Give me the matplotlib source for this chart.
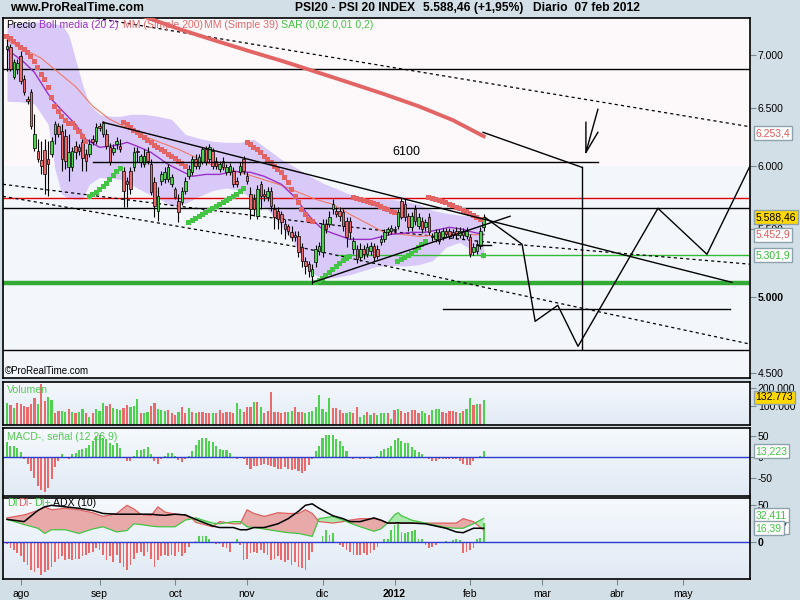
import numpy as np
import matplotlib
matplotlib.use("Agg")
import matplotlib.pyplot as plt
from matplotlib.colors import LinearSegmentedColormap
from matplotlib.ticker import NullLocator, NullFormatter

plt.rcParams['font.family'] = ['Liberation Sans', 'DejaVu Sans']

# 🔹 Velas diarias PSI20 (26 jul 2011 - 07 feb 2012), indice de barra 0..139
apertura = [7056, 7076, 6787, 6863, 6988, 6768, 6583, 6647, 6150, 6124,
            6048, 6133, 6056, 6098, 6270, 6340, 6296, 6253, 5989, 5989,
            6167, 6158, 6201, 6098, 6098, 6227, 6210, 6340, 6270, 6270,
            6158, 6115, 6184, 6167, 5956, 5874, 5956, 5989, 6124, 6031,
            6014, 6115, 6014, 5866, 5634, 5874, 5890, 5890, 5850, 5809,
            5713, 5705, 5793, 5915, 5948, 6056, 5998, 6031, 6141, 6056,
            6124, 6039, 5973, 6039, 5948, 5948, 5956, 5874, 5948, 6056,
            5915, 5769, 5729, 5596, 5850, 5769, 5745, 5793, 5650, 5634,
            5611, 5534, 5518, 5472, 5450, 5442, 5360, 5256, 5234, 5148,
            5249, 5330, 5323, 5534, 5534, 5650, 5634, 5634, 5627, 5557,
            5557, 5345, 5345, 5286, 5345, 5308, 5330, 5367, 5345, 5397,
            5419, 5472, 5480, 5495, 5518, 5713, 5690, 5596, 5511, 5650,
            5518, 5557, 5511, 5588, 5434, 5419, 5472, 5434, 5480, 5480,
            5472, 5480, 5450, 5480, 5442, 5434, 5323, 5330, 5367, 5511]
cierre = [7087, 6863, 6930, 6920, 6749, 6647, 6565, 6340, 6270, 6056,
          5998, 5931, 6014, 6210, 6358, 6270, 6056, 6039, 6115, 6124,
          6115, 6124, 6065, 6039, 6184, 6201, 6331, 6323, 6367, 6167,
          6031, 6150, 6210, 6141, 5793, 5850, 5809, 6115, 6115, 6081,
          6081, 6039, 5785, 5674, 5753, 5931, 5948, 5989, 5906, 5745,
          5627, 5793, 5874, 5973, 6056, 5998, 6073, 6141, 6031, 6158,
          5998, 5998, 6014, 5989, 5989, 5998, 5850, 5850, 5998, 5956,
          5874, 5650, 5650, 5809, 5753, 5753, 5793, 5674, 5588, 5572,
          5549, 5495, 5480, 5434, 5434, 5323, 5256, 5220, 5184, 5198,
          5345, 5367, 5534, 5495, 5588, 5690, 5611, 5596, 5518, 5434,
          5472, 5404, 5271, 5345, 5308, 5360, 5367, 5286, 5293, 5419,
          5472, 5495, 5503, 5488, 5627, 5588, 5588, 5511, 5596, 5557,
          5588, 5495, 5549, 5472, 5442, 5472, 5404, 5480, 5457, 5442,
          5450, 5450, 5480, 5450, 5480, 5308, 5360, 5382, 5480, 5588.46]
maximo = [7155, 7105, 6959, 6959, 7036, 6806, 6610, 6675, 6447, 6227,
          6210, 6227, 6210, 6244, 6384, 6367, 6358, 6314, 6270, 6158,
          6210, 6184, 6227, 6141, 6227, 6262, 6367, 6367, 6384, 6314,
          6192, 6184, 6244, 6227, 5989, 5906, 5989, 6158, 6158, 6098,
          6141, 6158, 6056, 5906, 5825, 5956, 5989, 6014, 5931, 5825,
          5769, 5825, 5906, 6006, 6081, 6098, 6098, 6158, 6167, 6184,
          6150, 6073, 6039, 6073, 6014, 6023, 5989, 5906, 6031, 6081,
          5948, 5825, 5769, 5842, 5874, 5809, 5825, 5825, 5690, 5666,
          5634, 5572, 5534, 5518, 5480, 5480, 5389, 5286, 5256, 5234,
          5374, 5397, 5572, 5572, 5634, 5729, 5666, 5666, 5650, 5588,
          5588, 5434, 5374, 5389, 5374, 5389, 5397, 5389, 5374, 5450,
          5495, 5511, 5526, 5518, 5650, 5745, 5729, 5619, 5627, 5682,
          5619, 5588, 5572, 5619, 5465, 5495, 5495, 5503, 5503, 5503,
          5495, 5511, 5511, 5503, 5511, 5457, 5389, 5412, 5511, 5611]
minimo = [6844, 6844, 6768, 6815, 6721, 6620, 6537, 6314, 6124, 6031,
          5931, 5769, 5753, 6073, 6184, 6244, 5956, 5973, 5874, 5956,
          6056, 6090, 5956, 5956, 6073, 6175, 6184, 6296, 6244, 6141,
          6006, 6090, 6141, 6115, 5666, 5666, 5769, 5956, 6031, 5989,
          5989, 6014, 5761, 5588, 5557, 5842, 5858, 5866, 5825, 5729,
          5549, 5682, 5769, 5890, 5923, 5973, 5973, 6014, 6006, 6031,
          5973, 5973, 5948, 5964, 5923, 5923, 5825, 5825, 5923, 5931,
          5850, 5572, 5596, 5572, 5650, 5713, 5713, 5634, 5495, 5495,
          5457, 5419, 5450, 5404, 5404, 5286, 5212, 5162, 5141, 5092,
          5212, 5300, 5286, 5465, 5511, 5611, 5588, 5557, 5480, 5360,
          5419, 5308, 5242, 5256, 5271, 5286, 5300, 5256, 5271, 5374,
          5397, 5450, 5457, 5465, 5495, 5572, 5557, 5480, 5480, 5526,
          5495, 5465, 5480, 5450, 5404, 5397, 5382, 5412, 5434, 5419,
          5427, 5419, 5427, 5419, 5419, 5286, 5300, 5308, 5345, 5480]

# SAR (0,02 0,01 0,2)
sar = [7185, 7165, 7135, 7105, 7076, 7056, 7027, 6988, 6940, 6882,
       6815, 6768, 6694, 6601, 6519, 6474, 6429, 6393, 6367, 6367,
       6331, 6296, 6253, 6210, 5753, 5769, 5785, 5809, 5834, 5858,
       5890, 5923, 5956, 5981, 6375, 6358, 6331, 6305, 6288, 6262,
       6244, 6218, 6201, 6175, 6158, 6141, 6124, 6098, 6081, 6065,
       6039, 6023, 5998, 5549, 5565, 5580, 5596, 5611, 5627, 5642,
       5658, 5674, 5690, 5705, 5721, 5737, 5753, 5769, 5793, 5817,
       6201, 6184, 6158, 6141, 6115, 6081, 6056, 6031, 5998, 5973,
       5948, 5906, 5866, 5809, 5753, 5705, 5650, 5611, 5572, 5557,
       5105, 5120, 5134, 5155, 5177, 5198, 5220, 5242, 5264, 5278,
       5293, 5745, 5737, 5729, 5721, 5713, 5705, 5697, 5690, 5674,
       5658, 5650, 5634, 5627, 5256, 5271, 5286, 5300, 5315, 5338,
       5360, 5382, 5404, 5745, 5737, 5729, 5721, 5713, 5705, 5690,
       5682, 5666, 5658, 5642, 5634, 5619, 5604, 5588, 5572, 5301.9]

# Bandas de Bollinger (20 2) y medias moviles
boll_idx = [0, 4, 8, 12, 14, 16, 18, 20, 22, 24, 27, 30, 33, 36, 40, 44, 48, 52, 56, 60,
            64, 68, 72, 76, 80, 84, 88, 92, 96, 100, 104, 108, 112, 116, 120, 124, 128, 132, 136, 139]
boll_sup = [7300, 7320, 7330, 7320, 7310, 7300, 7200, 6959, 6721, 6537, 6447, 6430, 6429, 6447, 6447,
            6429, 6402, 6270, 6235, 6210, 6201, 6201, 6227, 6141, 6056, 5990, 5923, 5860, 5815, 5770,
            5729, 5729, 5729, 5713, 5690, 5642, 5620, 5605, 5596, 5588]
boll_inf = [6565, 6560, 6540, 6358, 5973, 5769, 5740, 5729, 5729, 5850, 5906, 5900, 5890, 5850, 5790,
            5740, 5674, 5697, 5753, 5800, 5820, 5800, 5720, 5650, 5518, 5380, 5184, 5130, 5141, 5160,
            5190, 5220, 5227, 5222, 5232, 5260, 5360, 5397, 5330, 5271]
media_idx = [0, 5, 8, 13, 16, 20, 23, 27, 32, 35, 38, 42, 47, 51, 54, 58, 62, 66, 71, 75,
             80, 84, 87, 89, 92, 95, 100, 106, 112, 118, 122, 125, 129, 133, 136, 139]
media_val = [7056, 6930, 6834, 6583, 6483, 6358, 6227, 6158, 6175, 6201, 6167, 6115, 6014, 5956,
             5915, 5931, 5931, 5956, 5948, 5915, 5850, 5745, 5634, 5572, 5495, 5465, 5419, 5419,
             5457, 5472, 5472, 5488, 5511, 5495, 5472, 5457]
mm39_idx = [0, 10, 20, 25, 30, 40, 50, 60, 70, 80, 90, 95, 100, 110, 120, 130, 139]
mm39_val = [7145, 6969, 6700, 6520, 6402, 6253, 6141, 6006, 5931, 5842, 5729, 5690, 5611, 5472,
            5442, 5457, 5452.9]
mm200_idx = [0, 10, 20, 30, 40, 50, 60, 70, 80, 90, 100, 110, 120, 130, 139]
mm200_val = [7800, 7700, 7600, 7490, 7385, 7260, 7150, 7045, 6945, 6840, 6735, 6630, 6520, 6395, 6253.4]

# Volumen
volumen = [120600, 108000, 93600, 117000, 111600, 104400, 99000, 111600, 147600, 111600,
           221400, 129600, 153000, 135000, 63000, 75600, 75600, 72000, 84600, 72000,
           63000, 72000, 84600, 63000, 45000, 63000, 84600, 75600, 117000, 102600,
           111600, 90000, 84600, 81000, 93600, 109800, 99000, 102600, 140400, 66600,
           63000, 72000, 102600, 120600, 84600, 81000, 77400, 81000, 63000, 54000,
           72000, 95400, 66600, 90000, 72000, 63000, 72000, 68400, 63000, 63000,
           63000, 63000, 81000, 66600, 72000, 72000, 66600, 117000, 84600, 72000,
           99000, 99000, 126000, 122400, 95400, 63000, 75600, 180000, 68400, 68400,
           63000, 68400, 72000, 75600, 99000, 68400, 68400, 66600, 72000, 75600,
           95400, 162000, 84600, 72000, 144000, 93600, 90000, 81000, 63000, 66600,
           72000, 66600, 99000, 45000, 54000, 68400, 54000, 66600, 54000, 66600,
           66600, 63000, 30600, 81000, 84600, 75600, 66600, 68400, 81000, 81000,
           63000, 75600, 63000, 54000, 81000, 84600, 84600, 68400, 66600, 75600,
           75600, 72000, 66600, 75600, 84600, 147600, 108000, 111600, 113400, 132773]
vol_color = ("GRGRRRRRRG" "RRGGRRGGRG" "RGGRGRGGGR" "RGGGRRGGGR" "GGRRGGGRRR"
             "GRRGRGRRRR" "GRRRRRRGGR" "RRGRGRRRRR" "RRGGRRRGGG" "GGGGGRRRRG"
             "GRRGGRGRGG" "GRGRGRRRRR" "RGGRGGGRRR" "RRGRGGRGRG")

# MACD (12 26 9), histograma
macd_hist = [35, 27, 25, 21, 11, -4, -17, -34, -50, -68,
             -79, -84, -74, -52, -25, -10, 6, 0, -4, 6,
             10, 17, 20, 21, 29, 37, 49, 53, 45, 43,
             33, 29, 33, 21, 0, -10, -10, 3, 17, 17,
             19, 23, 6, -10, -16, -5, 3, 10, 10, 3,
             -8, -13, -5, 3, 13, 29, 41, 44, 45, 39,
             35, 27, 20, 16, 16, 10, 0, -4, -2, -6,
             -18, -29, -22, -21, -20, -17, -18, -22, -25, -28,
             -28, -25, -28, -30, -29, -34, -38, -34, -18, -5,
             13, 27, 45, 51, 53, 53, 43, 39, 25, 13,
             0, -4, -2, -4, -4, -2, -5, 1, 3, 13,
             20, 21, 25, 41, 44, 39, 33, 32, 23, 17,
             11, 6, 0, -6, -10, -10, -6, -6, -5, -6,
             -5, -6, -10, -16, -18, -18, -10, -2, 3, 13.223]

# DMI / ADX (10)
dmi_hist = [-2, -8, -10, -15, -19, -26, -31, -37, -40, -35,
            -44, -40, -37, -33, -26, -22, -19, -24, -22, -24,
            -22, -22, -18, -17, -15, -13, -8, -10, -17, -24,
            -19, -26, -17, -28, -33, -37, -31, -22, -15, -13,
            -19, -13, -22, -33, -24, -19, -17, -19, -17, -19,
            -13, -19, -15, -6, 1, 2, 8, 9, 8, 4,
            -1, -2, -2, -6, -8, -13, 1, 4, -4, -24,
            -22, -15, -13, -15, -10, -15, -17, -24, -22, -19,
            -24, -26, -24, -31, -26, -33, -35, -37, -24, -13,
            -1, 1, 9, 16, 10, 12, -1, -4, -6, -10,
            -13, -17, -17, -17, -15, -17, -15, -10, -6, -1,
            5, 4, 17, 23, 26, 14, 12, 14, 15, 17,
            4, 4, -4, -8, -6, -4, -1, 1, 2, -1,
            3, 4, 3, -15, -13, -10, -8, 5, 6, 26]
dmi_idx = [0, 5, 9, 11, 13, 17, 21, 25, 28, 32, 35, 37, 39, 42, 44, 46, 49, 52, 54, 55,
           60, 62, 66, 68, 70, 72, 75, 79, 82, 85, 87, 89, 91, 95, 98, 100, 103, 107, 109, 111,
           113, 114, 115, 118, 122, 128, 131, 133, 136, 139]
di_menos = [33, 37, 43, 48, 44, 46, 44, 40, 35, 39, 50, 45, 38, 36, 48, 41, 38, 37, 32, 27,
            21, 28, 25, 25, 44, 39, 35, 40, 39, 39, 44, 39, 28, 26, 28, 30, 32, 32, 30, 26,
            26, 26, 26, 26, 26, 26, 26, 32, 28, 16.4]
di_mas = [31, 24, 19, 12, 17, 17, 12, 18, 21, 14, 16, 25, 24, 22, 21, 21, 21, 30, 32, 33,
          26, 25, 28, 28, 21, 20, 18, 15, 13, 12, 10, 8, 32, 35, 30, 26, 21, 15, 18, 26,
          37, 40, 36, 30, 26, 20, 19, 19, 25, 32.411]
adx = [31, 28, 43, 48, 50, 48, 46, 43, 39, 38, 38, 38, 38, 38, 37, 36.5, 38, 37, 33, 31,
       22, 20, 20, 17, 17, 20, 20, 25, 32, 42, 50, 52, 46, 36, 32, 28, 28, 33, 30, 26,
       26, 26.5, 26, 26, 25, 19, 14, 13, 19, 19]

# Meses (indice de barra del primer dia habil)
mes_idx = [4, 27, 49, 70, 92, 113, 135, 156, 178, 197]
mes_txt = ['ago', 'sep', 'oct', 'nov', 'dic', '2012', 'feb', 'mar', 'abr', 'may']

# Lineas dibujadas sobre el precio (indice de barra, precio)
lineas_h = [(6863, 'black', 1.0), (5737, '#e00000', 1.0), (5658, 'black', 1.0),
            (5100, '#33aa33', 3.2), (4650, 'black', 1.0)]
tramos = [
    ([28.0, 211.4], [6376, 5105]),
    ([89.2, 146.7], [5105, 5596]),
    ([25.0, 172.3], [6030, 6030]),
    ([127.0, 210.8], [4920, 4920]),
    ([137.0, 141.0], [5375, 5375]),
    ([138.8, 167.6], [6288, 5990]),
    ([167.6, 167.6], [5990, 4652]),
    ([139.4, 150.2, 154.0, 160.6, 166.5, 189.8, 204.1, 218.0],
     [5587, 5382, 4836, 4945, 4671, 5658, 5308, 6080]),
    ([172.3, 168.8, 168.8], [6492, 6115, 6376]),
    ([172.3, 168.8], [6288, 6115]),
]
tramo_verde = ([96.0, 217.0], [5300, 5300])
discontinuas = [
    ([26.2, 217.0], [7367, 6335]),
    ([-1.2, 85.4, 137.9, 217.0], [5850, 5557, 5404, 5235]),
    ([-1.2, 85.4, 137.9, 217.0], [5753, 5360, 5077, 4684]),
]

VERDE = '#4fd04f'
ROJO = '#e86a6a'
FONDO = '#d3dfe6'
BORDE_CAJA = '#8da2ac'
XMIN, XMAX = -1.16, 216.5

fig = plt.figure(figsize=(8, 6), dpi=100)
fig.patch.set_facecolor(FONDO)

grad_cmap = LinearSegmentedColormap.from_list('panel', ['#f5f9fd', '#e1eaf4'])


def px(x, y):
    return x / 800, 1 - y / 600


def panel(top, bottom, gradiente=True):
    r = [3 / 800, 1 - bottom / 600, 746.5 / 800, (bottom - top) / 600]
    if gradiente:
        bg = fig.add_axes(r, zorder=0)
        bg.imshow(np.linspace(0, 1, 64).reshape(-1, 1), aspect='auto', cmap=grad_cmap,
                  extent=[0, 1, 0, 1])
        bg.set_axis_off()
    ax = fig.add_axes(r, zorder=1)
    ax.set_facecolor('none')
    for s in ax.spines.values():
        s.set_color('black')
        s.set_linewidth(1.2)
    ax.set_xlim(XMIN, XMAX)
    ax.yaxis.tick_right()
    ax.tick_params(axis='y', which='major', length=4, width=0.8, color='#7b8990',
                   labelsize=7.5, pad=2)
    ax.tick_params(axis='x', which='both', bottom=False, labelbottom=False)
    return ax


def caja(ax, valor, texto, color, fondo='white', dy=0):
    ax.annotate(texto, xy=(1, valor), xycoords=('axes fraction', 'data'),
                xytext=(6, dy), textcoords='offset pixels', ha='left', va='center',
                fontsize=7.5, color=color, annotation_clip=False, zorder=10,
                bbox=dict(boxstyle='square,pad=0.18', fc=fondo, ec=BORDE_CAJA, lw=1))


idx = np.arange(len(cierre))
o = np.array(apertura, dtype=float)
c = np.array(cierre, dtype=float)
sube = c >= o

# 🔹 Panel de precio
ax = panel(17.5, 378, gradiente=False)
ax.set_facecolor('#f3f7fc')
ax.set_yscale('log')
ax.set_ylim(4470, 7375)
ax.axhspan(6000, 9000, color='#fdf9fb', lw=0, zorder=0)
ax.fill_between(boll_idx, boll_inf, boll_sup, color='#d9c9f9', lw=0, zorder=1)

for precio, color, lw in lineas_h:
    ax.axhline(precio, color=color, lw=lw, zorder=2)
ax.plot(*tramo_verde, color='#33bb33', lw=1.0, zorder=2)
for xs, ys in discontinuas:
    ax.plot(xs, ys, color='black', lw=0.9, ls=(0, (2.5, 2.5)), zorder=2)

ax.plot(mm200_idx, mm200_val, color='#e26464', lw=2.8, zorder=3)
ax.plot(mm39_idx, mm39_val, color='#ee7a62', lw=0.8, zorder=3)
ax.plot(media_idx, media_val, color='#9a2fc8', lw=1.0, zorder=3)

# velas
ax.vlines(idx, minimo, maximo, color='black', lw=0.8, zorder=4)
cuerpo = np.maximum(np.abs(c - o), 4)
ax.bar(idx, cuerpo, bottom=np.minimum(o, c), width=0.74,
       color=np.where(sube, VERDE, ROJO), edgecolor='black', lw=0.5, zorder=5)

# SAR
sar_arr = np.array(sar)
ax.scatter(idx, sar_arr, marker='s', s=13, lw=0, zorder=6,
           c=np.where(sar_arr < c, '#44c444', '#e26464'))

for xs, ys in tramos:
    ax.plot(xs, ys, color='black', lw=1.0, zorder=7)
ax.text(112.5, 6115, '6100', fontsize=9, va='center', ha='left', zorder=7)

ax.set_yticks([4500, 5000, 5500, 6000, 6500, 7000],
              ['4.500', '5.000', '5.500', '6.000', '6.500', '7.000'])
ax.yaxis.set_minor_locator(NullLocator())
ax.yaxis.set_minor_formatter(NullFormatter())
ax.yaxis.get_major_ticks()[1].label2.set_fontweight('bold')

caja(ax, 6253.4, '6.253,4', '#e05a5a', dy=3)
caja(ax, 5588.46, '5.588,46', 'black', fondo='#ffd800')
caja(ax, 5452.9, '5.452,9', '#e05a5a')
caja(ax, 5301.9, '5.301,9', '#33bb33')

# leyenda del precio
leyenda = [(6, 'Precio', 'black'), (39, 'Boll media (20 2)', '#9a2fc8'),
           (123, 'MM (Simple 200)', '#e26a6a'), (204, 'MM (Simple 39)', '#e26a6a'),
           (281, 'SAR (0,02 0,01 0,2)', '#44c444')]
for x, txt, col in leyenda:
    fig.text(*px(x, 25), txt, color=col, fontsize=7.6, va='center', zorder=5)
fig.text(*px(5, 371), '\u00a9ProRealTime.com', fontsize=7, va='center', zorder=5)

# 🔹 Volumen
axv = panel(381.7, 425)
axv.set_ylim(0, 234000)
axv.bar(idx, volumen, width=0.64, lw=0,
        color=[VERDE if k == 'G' else ROJO for k in vol_color])
axv.set_yticks([100000, 200000], ['100.000', '200.000'])
caja(axv, 132773, '132.773', 'black', fondo='#ffd800', dy=3)
fig.text(*px(7, 390), 'Volumen', color='#55c855', fontsize=7.6, va='center', zorder=5)

# 🔹 MACD
axm = panel(428.3, 495.7)
axm.set_ylim(-92, 68)
mh = np.array(macd_hist)
axm.bar(idx, mh, width=0.6, lw=0, color=np.where(mh >= 0, VERDE, ROJO))
axm.axhline(0, color='#2b3bd0', lw=1)
axm.set_yticks([-50, 0, 50], ['-50', '0', '50'])
caja(axm, 13.223, '13,223', '#44c444')
fig.text(*px(7, 437), 'MACD-, se\u00f1al (12 26 9)', color='#55c855', fontsize=7.6,
         va='center', zorder=5)

# 🔹 DMI / ADX
axd = panel(498.3, 579.3)
axd.set_ylim(-50, 59.5)
dm = np.array(di_menos)
dp = np.array(di_mas)
axd.fill_between(dmi_idx, dm, dp, where=dm >= dp, interpolate=True, color='#e8a9a9', lw=0)
axd.fill_between(dmi_idx, dm, dp, where=dp >= dm, interpolate=True, color='#a9e9a9', lw=0)
axd.plot(dmi_idx, dm, color='#e06060', lw=0.9)
axd.plot(dmi_idx, dp, color='#44c444', lw=0.9)
axd.plot(dmi_idx, adx, color='black', lw=1.1)
dh = np.array(dmi_hist)
axd.bar(idx, dh, width=0.5, lw=0, color=np.where(dh >= 0, VERDE, ROJO))
axd.axhline(0, color='#2b3bd0', lw=1)
axd.set_yticks([0, 50], ['0', '50'])
axd.yaxis.get_major_ticks()[0].label2.set_fontweight('bold')
caja(axd, 16.397, '16,397', 'black', dy=3)
caja(axd, 32.411, '32,411', '#44c444', dy=3)
axd.annotate('16,39', xy=(1, 16.4), xycoords=('axes fraction', 'data'),
             xytext=(6, 2), textcoords='offset pixels', ha='left', va='center',
             fontsize=7.5, color='#44c444', annotation_clip=False, zorder=11,
             bbox=dict(boxstyle='square,pad=0.18', fc='white', ec=BORDE_CAJA, lw=1))
for x, txt, col in [(7, 'DI', '#44c444'), (18, 'DI-', '#e06060'),
                    (34, 'DI+', '#44c444'), (53, 'ADX (10)', 'black')]:
    fig.text(*px(x, 503), txt, color=col, fontsize=7.6, va='center', zorder=5)

# eje de fechas
axd.tick_params(axis='x', which='major', bottom=True, labelbottom=True, length=4,
                width=0.8, color='#7b8990', labelsize=7.5, pad=3)
axd.set_xticks(mes_idx, mes_txt)
axd.xaxis.get_major_ticks()[5].label1.set_fontweight('bold')

# 🔹 Cabecera
fig.text(*px(10, 8), 'www.ProRealTime.com', fontsize=8.7, fontweight='bold', va='center')
fig.text(*px(295, 8), 'PSI20 - PSI 20 INDEX', fontsize=8.7, fontweight='bold', va='center')
fig.text(*px(423, 8), '5.588,46 (+1,95%)', fontsize=8.7, fontweight='bold', va='center')
fig.text(*px(533, 8), 'Diario  07 feb 2012', fontsize=8.7, fontweight='bold', va='center')

fig.savefig('out.png', dpi=100, facecolor=fig.get_facecolor())
